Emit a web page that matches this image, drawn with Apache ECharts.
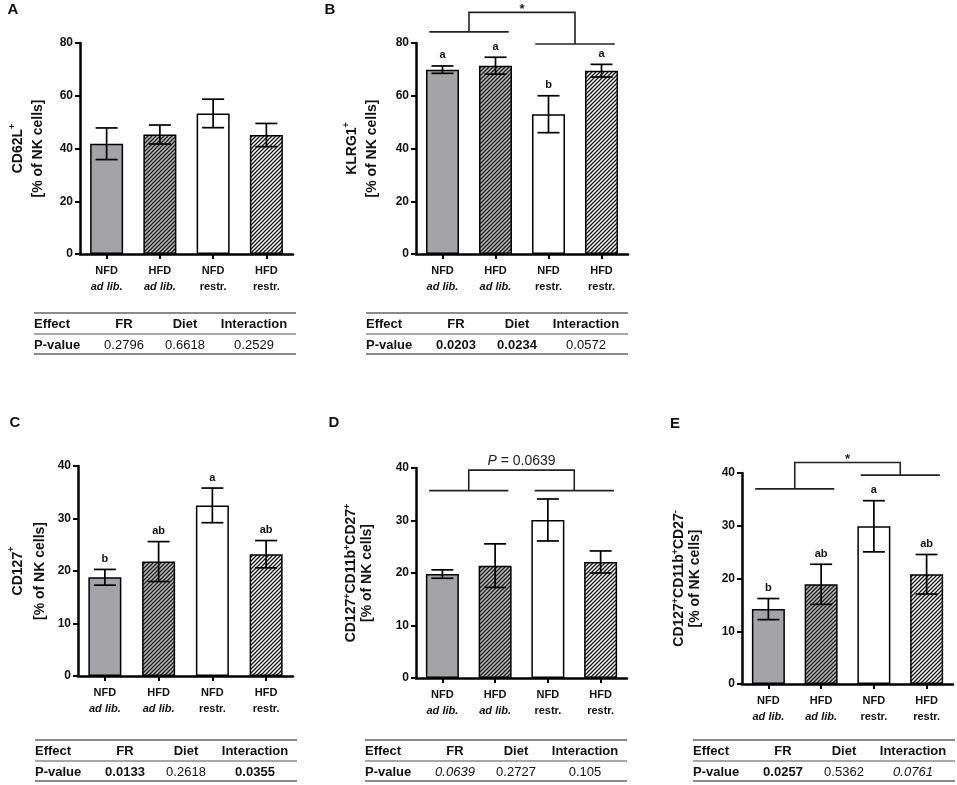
<!DOCTYPE html>
<html>
<head>
<meta charset="utf-8">
<script src="https://cdn.jsdelivr.net/npm/echarts@6/dist/echarts.min.js"></script>
<style>
html,body{margin:0;padding:0;background:#fff;}
#c{width:957px;height:785px;}
</style>
</head>
<body>
<div id="c"></div>
<script>
// ---------- data ----------
const diets = ['NFD', 'HFD', 'NFD', 'HFD'];
const regimes = ['ad lib.', 'ad lib.', 'restr.', 'restr.'];

const yTicks80 = [0, 20, 40, 60, 80];
const yTicks40 = [0, 10, 20, 30, 40];

const meanA = [41.8, 45.3, 53.3, 45.1];
const semA  = [6.0, 3.6, 5.4, 4.4];

const meanB = [69.9, 71.4, 53.0, 69.5];
const semB  = [1.4, 3.2, 7.0, 2.4];
const lettersB = ['a', 'a', 'b', 'a'];

const meanC = [18.8, 21.8, 32.5, 23.2];
const semC  = [1.5, 3.8, 3.3, 2.6];
const lettersC = ['b', 'ab', 'a', 'ab'];

const meanD = [19.8, 21.4, 30.1, 22.1];
const semD  = [0.8, 4.15, 4.0, 2.1];

const meanE = [14.2, 18.9, 29.9, 20.8];
const semE  = [2.0, 3.8, 4.85, 3.75];
const lettersE = ['b', 'ab', 'a', 'ab'];

const effects = ['FR', 'Diet', 'Interaction'];
const pA = ['0.2796', '0.6618', '0.2529'];
const pB = ['0.0203', '0.0234', '0.0572'];
const pC = ['0.0133', '0.2618', '0.0355'];
const pD = ['0.0639', '0.2727', '0.105'];
const pE = ['0.0257', '0.5362', '0.0761'];

// ---------- styles ----------
const FONT = '"Liberation Sans", Arial, Helvetica, sans-serif';

function hatch(bg, fg) {
  const s = 4;
  const c = document.createElement('canvas');
  c.width = s; c.height = s;
  const g = c.getContext('2d');
  g.fillStyle = bg; g.fillRect(0, 0, s, s);
  g.strokeStyle = fg; g.lineWidth = 1.3;
  g.beginPath();
  g.moveTo(0, s); g.lineTo(s, 0);
  g.moveTo(-1, 1); g.lineTo(1, -1);
  g.moveTo(s - 1, s + 1); g.lineTo(s + 1, s - 1);
  g.stroke();
  return c;
}
const barFills = [
  '#a4a4a8',
  { image: hatch('#bdbdbd', '#1a1a1a'), repeat: 'repeat' },
  '#ffffff',
  { image: hatch('#ffffff', '#111111'), repeat: 'repeat' }
];

const panels = [
  { key: 'A', mean: meanA, sem: semA, letters: null, ticks: yTicks80,
    grid: { left: 80, top: 43, width: 213, height: 211 },
    name: '{t|CD62L}{s|+}\n{t|[% of NK cells]}', nameGap: 32, lh: 20,
    p: pA, pStyle: ['n', 'n', 'n'], table: { x: 34, y: 313 }, tag: { x: 13, y: 10 }, bracket: null },
  { key: 'B', mean: meanB, sem: semB, letters: lettersB, ticks: yTicks80,
    grid: { left: 416, top: 43, width: 212, height: 211 },
    name: '{t|KLRG1}{s|+}\n{t|[% of NK cells]}', nameGap: 34, lh: 20,
    p: pB, pStyle: ['b', 'b', 'n'], table: { x: 366, y: 313 }, tag: { x: 330, y: 10 },
    bracket: { l: 84.2, r: 79.6, top: 91.6, text: '*' } },
  { key: 'C', mean: meanC, sem: semC, letters: lettersC, ticks: yTicks40,
    grid: { left: 78, top: 466, width: 215, height: 210 },
    name: '{t|CD127}{s|+}\n{t|[% of NK cells]}', nameGap: 27, lh: 22,
    p: pC, pStyle: ['b', 'n', 'b'], table: { x: 35, y: 740 }, tag: { x: 15, y: 423 }, bracket: null },
  { key: 'D', mean: meanD, sem: semD, letters: null, ticks: yTicks40,
    grid: { left: 416, top: 468, width: 211, height: 210 },
    name: '{t|CD127}{s|+}{t|CD11b}{s|+}{t|CD27}{s|+}\n{t|[% of NK cells]}', nameGap: 41, lh: 16,
    p: pD, pStyle: ['i', 'n', 'n'], table: { x: 365, y: 740 }, tag: { x: 334, y: 423 },
    bracket: { l: 35.7, r: 35.7, top: 39.6, text: '{i|P} = 0.0639' } },
  { key: 'E', mean: meanE, sem: semE, letters: lettersE, ticks: yTicks40,
    grid: { left: 742, top: 473, width: 211, height: 211 },
    name: '{t|CD127}{s|+}{t|CD11b}{s|+}{t|CD27}{s|-}\n{t|[% of NK cells]}', nameGap: 39, lh: 16,
    p: pE, pStyle: ['b', 'n', 'i'], table: { x: 693, y: 740 }, tag: { x: 675, y: 424 },
    bracket: { l: 37.0, r: 39.6, top: 42.0, text: '*' } }
];

// ---------- build option ----------
const grids = [], xAxes = [], yAxes = [], series = [], graphics = [];

panels.forEach((p, i) => {
  grids.push(Object.assign({ containLabel: false }, p.grid));

  xAxes.push({
    gridIndex: i, type: 'category', data: diets,
    axisLine: { show: true, lineStyle: { color: '#000', width: 2.5 } },
    axisTick: { show: true, alignWithLabel: true, length: 5, lineStyle: { color: '#000', width: 2 } },
    axisLabel: {
      margin: 9, interval: 0,
      formatter: (v, k) => '{d|' + v + '}\n{' + (regimes[k] === 'ad lib.' ? 'it' : 'rg') + '|' + regimes[k] + '}',
      rich: {
        d:  { fontFamily: FONT, fontSize: 11, fontWeight: 'bold', color: '#111', lineHeight: 16 },
        it: { fontFamily: FONT, fontSize: 11, fontWeight: 'bold', fontStyle: 'italic', color: '#111', lineHeight: 16 },
        rg: { fontFamily: FONT, fontSize: 11, fontWeight: 'bold', color: '#111', lineHeight: 16 }
      }
    },
    splitLine: { show: false }
  });

  const t = p.ticks;
  yAxes.push({
    gridIndex: i, type: 'value', min: t[0], max: t[t.length - 1], interval: t[1] - t[0],
    axisLine: { show: true, lineStyle: { color: '#000', width: 2.5 } },
    axisTick: { show: true, length: 5, lineStyle: { color: '#000', width: 2 } },
    axisLabel: { margin: 7, fontFamily: FONT, fontSize: 12, fontWeight: 'bold', color: '#111' },
    splitLine: { show: false },
    name: p.name, nameLocation: 'middle', nameRotate: 90, nameGap: p.nameGap,
    nameTextStyle: {
      rich: {
        t: { fontFamily: FONT, fontSize: 14, fontWeight: 'bold', color: '#111', lineHeight: p.lh },
        s: { fontFamily: FONT, fontSize: 9, fontWeight: 'bold', color: '#111', lineHeight: 9, verticalAlign: 'top' }
      }
    }
  });

  series.push({
    type: 'bar', xAxisIndex: i, yAxisIndex: i, barWidth: 33,
    data: p.mean.map((v, k) => ({ value: v, itemStyle: { color: barFills[k] } })),
    itemStyle: { borderColor: '#000', borderWidth: 1.5 },
    emphasis: { disabled: true }, silent: true
  });

  series.push({
    type: 'custom', xAxisIndex: i, yAxisIndex: i, z: 5, silent: true,
    data: p.mean.map((v, k) => [k, v, p.sem[k]]),
    renderItem: (params, api) => {
      const x = api.value(0), m = api.value(1), e = api.value(2);
      const top = api.coord([x, m + e]), bot = api.coord([x, m - e]);
      const h = 11, st = { stroke: '#000', lineWidth: 1.7 };
      const ch = [
        { type: 'line', shape: { x1: top[0], y1: top[1], x2: bot[0], y2: bot[1] }, style: st },
        { type: 'line', shape: { x1: top[0] - h, y1: top[1], x2: top[0] + h, y2: top[1] }, style: st },
        { type: 'line', shape: { x1: bot[0] - h, y1: bot[1], x2: bot[0] + h, y2: bot[1] }, style: st }
      ];
      if (p.letters) {
        ch.push({ type: 'text', style: { text: p.letters[params.dataIndex], x: top[0], y: top[1] - 5,
          textAlign: 'center', textVerticalAlign: 'bottom', font: 'bold 11px ' + FONT, fill: '#111' } });
      }
      return { type: 'group', children: ch };
    }
  });

  if (p.bracket) {
    const b = p.bracket;
    series.push({
      type: 'custom', xAxisIndex: i, yAxisIndex: i, z: 5, silent: true, clip: false,
      data: [[0, 0]],
      renderItem: (params, api) => {
        const X = (f, y) => { const a = api.coord([0, y]), c = api.coord([1, y]); return [a[0] + f * (c[0] - a[0]), a[1]]; };
        const st = { stroke: '#222', lineWidth: 1.6, fill: null };
        const L1 = X(-0.25, b.l), L2 = X(1.25, b.l), R1 = X(1.75, b.r), R2 = X(3.25, b.r);
        const P = [X(0.5, b.l), X(0.5, b.top), X(2.5, b.top), X(2.5, b.r)];
        const T = X(1.5, b.top);
        const isStar = b.text === '*';
        return { type: 'group', children: [
          { type: 'line', shape: { x1: L1[0], y1: L1[1], x2: L2[0], y2: L2[1] }, style: st },
          { type: 'line', shape: { x1: R1[0], y1: R1[1], x2: R2[0], y2: R2[1] }, style: st },
          { type: 'polyline', shape: { points: P }, style: st },
          { type: 'text', style: {
              text: b.text, x: T[0], y: isStar ? T[1] - 3 : T[1] - 9,
              textAlign: 'center', textVerticalAlign: 'middle',
              font: (isStar ? 'bold 13px ' : '14px ') + FONT, fill: '#222',
              rich: { i: { fontStyle: 'italic', fontSize: 14, fontFamily: FONT, fill: '#222' } }
          } }
        ] };
      }
    });
  }

  // panel tag
  graphics.push({ type: 'text', style: { text: p.key, x: p.tag.x, y: p.tag.y, textAlign: 'center',
    textVerticalAlign: 'middle', font: 'bold 15px ' + FONT, fill: '#111' } });

  // statistics table
  const x0 = p.table.x, y0 = p.table.y, W = 262, cols = [90, 151, 220];
  const ln = (y, w) => ({ type: 'line', shape: { x1: x0, y1: y, x2: x0 + W, y2: y }, style: { stroke: '#8a8a8a', lineWidth: w } });
  const tx = (s, x, y, align, f) => ({ type: 'text', style: { text: s, x: x, y: y, textAlign: align,
    textVerticalAlign: 'middle', font: f + ' 13px ' + FONT, fill: '#111' } });
  graphics.push(ln(y0, 2), ln(y0 + 21, 1.5), ln(y0 + 41, 2));
  graphics.push(tx('Effect', x0, y0 + 11.5, 'left', 'bold'));
  graphics.push(tx('P-value', x0, y0 + 32, 'left', 'bold'));
  effects.forEach((e, k) => {
    graphics.push(tx(e, x0 + cols[k], y0 + 11.5, 'center', 'bold'));
    const f = p.pStyle[k] === 'b' ? 'bold' : (p.pStyle[k] === 'i' ? 'italic' : 'normal');
    graphics.push(tx(p.p[k], x0 + cols[k], y0 + 32, 'center', f));
  });
});

const chart = echarts.init(document.getElementById('c'), null, { renderer: 'canvas' });
chart.setOption({
  backgroundColor: '#fff',
  animation: false,
  textStyle: { fontFamily: FONT },
  grid: grids, xAxis: xAxes, yAxis: yAxes, series: series,
  graphic: graphics
});
</script>
</body>
</html>
